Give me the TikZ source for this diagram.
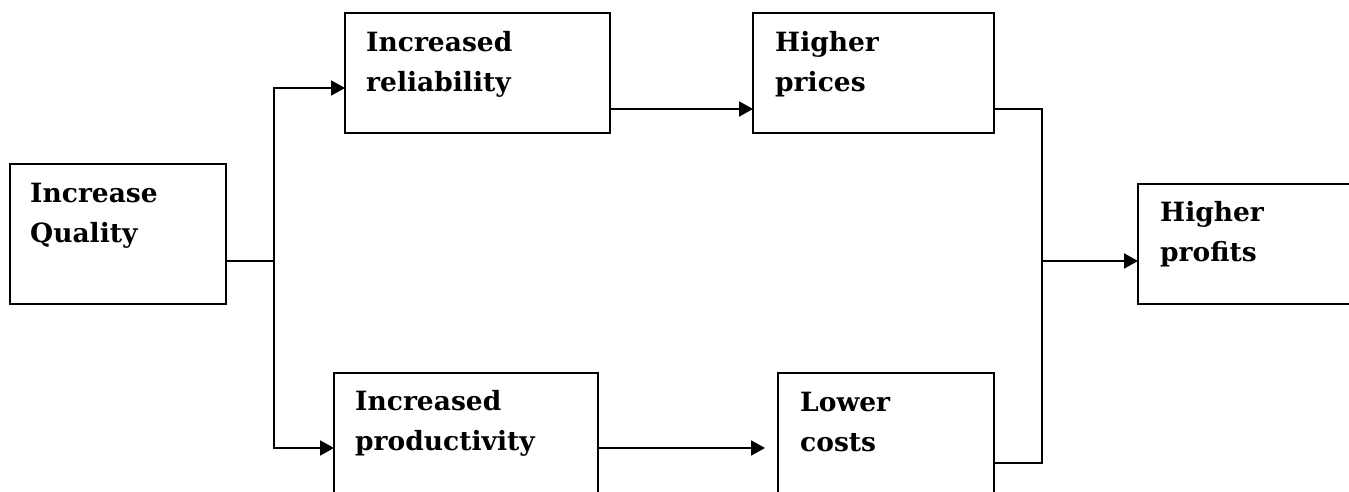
\documentclass[tikz,border=0pt]{standalone}
\usepackage{fontspec}
\setmainfont{DejaVu Serif}
\usetikzlibrary{arrows.meta}
\begin{document}
\begin{tikzpicture}[x=1pt,y=1pt,
  box/.style={draw=black, line width=2pt, fill=white, inner sep=0pt, outer sep=0pt, anchor=south west},
  lbl/.style={anchor=base west, inner sep=0pt, text width=260pt, align=left,
              font=\bfseries\fontsize{26.5}{40}\selectfont},
  link/.style={line width=2pt},
  arr/.style={link, -{Triangle[length=14pt,width=15pt]}}]
\useasboundingbox (0,0) rectangle (1349,492);
\clip (0,0) rectangle (1349,492);

% boxes
\node[box, minimum width=216pt, minimum height=140pt] (q)    at (10,188)  {};
\node[box, minimum width=265pt, minimum height=120pt] (r)    at (345,359) {};
\node[box, minimum width=241pt, minimum height=120pt] (hp)   at (753,359) {};
\node[box, minimum width=230pt, minimum height=120pt] (prof) at (1138,188) {};
\node[box, minimum width=264pt, minimum height=150pt] (p)    at (334,-31) {};
\node[box, minimum width=216pt, minimum height=150pt] (lc)   at (778,-31) {};

% labels
\node[lbl] (tq)    at ([shift={(20pt,-39pt)}]q.north west)    {Increase\\Quality};
\node[lbl] (tr)    at ([shift={(21pt,-39pt)}]r.north west)    {Increased\\reliability};
\node[lbl] (thp)   at ([shift={(22pt,-39pt)}]hp.north west)   {Higher\\prices};
\node[lbl] (tprof) at ([shift={(22pt,-38pt)}]prof.north west) {Higher\\profits};
\node[lbl] (tp)    at ([shift={(21pt,-38pt)}]p.north west)    {Increased\\productivity};
\node[lbl] (tlc)   at ([shift={(22pt,-39pt)}]lc.north west)   {Lower\\costs};

% junction points
\coordinate (j1) at (274,231);
\coordinate (j2) at (1042,231);

% connectors
\draw[link] (q.east |- j1) -- (j1);
\draw[arr] (j1) |- ([yshift=45pt]r.south west);
\draw[arr] (j1) |- ([yshift=-75pt]p.north west);
\draw[arr] ([yshift=24pt]r.south east) -- ([yshift=24pt]hp.south west);
\draw[arr] ([yshift=-75pt]p.north east) -- ([shift={(-13pt,-75pt)}]lc.north west);
\draw[link] ([yshift=24pt]hp.south east) -| (j2);
\draw[link] ([yshift=-90pt]lc.north east) -| (j2);
\draw[arr] (j2) -- (prof.west |- j2);
\end{tikzpicture}
\end{document}
